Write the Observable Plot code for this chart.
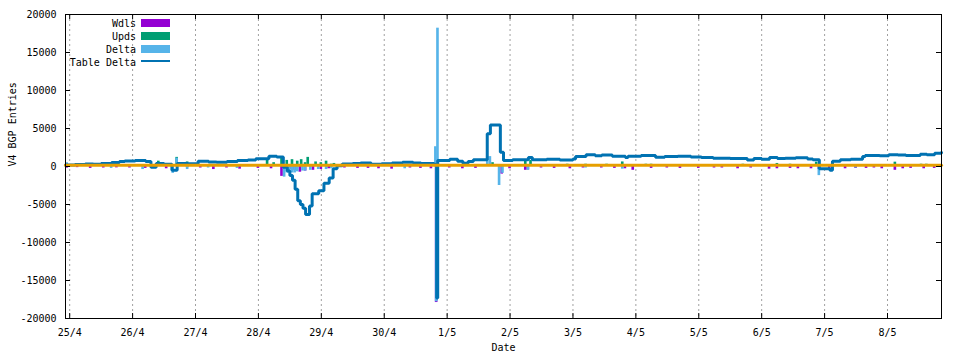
<!DOCTYPE html>
<html><head><meta charset="utf-8">
<script src="https://cdn.jsdelivr.net/npm/d3@7"></script>
<script src="https://cdn.jsdelivr.net/npm/@observablehq/plot@0.6"></script>
<style>body{margin:0;background:#fff}#chart{width:960px;height:360px}</style>
</head><body><div id="chart"></div>
<script>
// ---- data (hours since 25/4 00:00) ----
const dayTickLabels = ["25/4","26/4","27/4","28/4","29/4","30/4","1/5","2/5","3/5","4/5","5/5","6/5","7/5","8/5"];
const yTicks = [-20000,-15000,-10000,-5000,0,5000,10000,15000,20000];
const xDomainHours = [-1.6, 332.6];
const yDomain = [-20000, 20000];

const tableDelta = [[-1.6,200],[2,260],[6,330],[9,280],[12,400],[16,530],[19,660],[21,720],[25,790],[29,660],[31,-100],[33,400],[36,300],[39,-500],[41,400],[45,350],[49,700],[53,600],[56,560],[60,650],[64,790],[68,850],[71,1010],[76,1360],[79,1250],[81.5,-100],[83,-600],[84,-1200],[85,-1800],[86,-3000],[87,-4500],[88,-5000],[89,-5500],[90,-6300],[91.5,-5200],[92.5,-3600],[95,-3200],[97,-2200],[99,-1500],[100.5,-300],[102,100],[104,330],[108,400],[111,450],[115,300],[119,350],[123,450],[127,550],[131,450],[134,400],[139,300],[139.6,100],[140,-17300],[140.4,800],[145,960],[148,700],[150,430],[152,660],[154,880],[159.3,4300],[160.5,5450],[164.3,1880],[165.5,790],[169,880],[175,1200],[176.5,900],[182,950],[187,850],[192,1000],[193,1320],[197,1540],[200.5,1400],[203,1500],[207,1360],[212,1200],[213,1360],[218,1450],[223.5,1230],[227,1300],[232,1350],[237,1250],[241,1200],[245.5,1100],[252,1050],[258.5,850],[261,1050],[264,950],[267,1200],[270,1050],[273,1100],[277,1150],[281.5,1000],[283.5,900],[286,-300],[290,-500],[291,700],[294,900],[298,950],[302.5,1320],[303.5,1450],[309,1400],[312.5,1540],[316,1500],[319,1450],[324.5,1600],[327,1550],[330,1750],[332.6,1850]];

const wdls = [[-1,-220],[3,-150],[8,-250],[13,-200],[18,-180],[23,-200],[29,-250],[33,-200],[37,-300],[45,-150],[50,-200],[55,-400],[60,-200],[65,-350],[72,-250],[77,-300],[81,-1300],[84,-400],[86,-500],[88,-750],[90,-600],[93,-500],[96,-400],[99,-300],[105,-200],[110,-250],[114,-250],[118,-300],[123,-350],[130,-200],[134,-250],[138,-300],[140,-17900],[145,-200],[150,-300],[155,-250],[165,-1000],[168,-300],[174,-500],[175,-450],[180,-200],[185,-250],[191,-300],[196,-200],[203,-200],[208,-250],[212,-300],[215,-500],[222,-250],[228,-200],[233,-250],[240,-250],[246,-200],[249,-200],[255,-300],[260,-200],[267,-350],[270,-300],[275,-250],[278,-300],[283,-300],[286,-400],[290,-350],[296,-300],[300,-250],[304,-250],[307,-200],[310,-300],[315,-500],[318,-300],[321,-250],[326,-300],[330,-250]];

const upds = [[6,400],[34,700],[41,1200],[45,600],[75.5,1000],[78,500],[81,1300],[83,800],[85,900],[87,700],[88.5,900],[90,500],[91,1200],[94,600],[96,500],[98,700],[100,300],[101,400],[104,300],[161.5,500],[174,800],[176,800],[190,300],[197,300],[205,300],[211,600],[220,300],[222,300],[247,250],[257,300],[270,400],[275,300],[281,250],[285,570],[315,570],[325,300],[327,300],[330,250]];

const delta = [[-1,500],[16,-250],[28,-400],[39.5,-900],[41,1100],[45,-400],[53,-200],[64,-250],[82,-1400],[83,-850],[84,-850],[85,-850],[86,-850],[87,-700],[89,-600],[90,-600],[92,-500],[95,-400],[98,-400],[100,-300],[128,-300],[139.7,2600],[140,-17800],[140.5,18200],[159.5,1300],[160.5,1300],[164,-2500],[165.3,-900],[175,-500],[197,-200],[211,-350],[286,-1200],[300,-200]];

const baseline = [[-1.6,150],[332.6,150]];

const colors = {wdls:"#9400d3", upds:"#009e73", delta:"#56b4e9", table:"#0072b2", base:"#e69f00"};

// ---- helpers ----
const startMs = Date.UTC(2023,3,25);
const toDate = h => new Date(startMs + h*3600e3);
const tickDates = dayTickLabels.map((_, i) => toDate(i*24));
const labelByTime = new Map(tickDates.map((d,i)=>[+d, dayTickLabels[i]]));
const xStart = toDate(xDomainHours[0]), xEnd = toDate(xDomainHours[1]);

const bars = (arr, fill) => Plot.rectY(arr, {
  x1: d => toDate(d[0]-0.5), x2: d => toDate(d[0]+0.5),
  y1: () => 0, y2: d => d[1], fill, inset: 0
});

const plot = Plot.plot({
  width: 960, height: 360,
  marginLeft: 65, marginRight: 19, marginTop: 14, marginBottom: 42,
  style: {fontFamily: "'DejaVu Sans Mono', monospace", fontSize: "10px", color: "#000", background: "#fff", overflow: "visible"},
  x: {type: "utc", domain: [xStart, xEnd]},
  y: {domain: yDomain},
  marks: [
    Plot.ruleX(tickDates, {stroke: "#a0a0a0", strokeDasharray: "2,3", strokeOpacity: 1}),
    bars(wdls, colors.wdls),
    bars(upds, colors.upds),
    bars(delta, colors.delta),
    Plot.line(tableDelta, {x: d => toDate(d[0]), y: d => d[1], curve: "step-after", stroke: colors.table, strokeWidth: 3, strokeLinejoin: "miter"}),
    Plot.line(baseline, {x: d => toDate(d[0]), y: d => d[1], stroke: colors.base, strokeWidth: 3}),
    Plot.frame({stroke: "#000", strokeWidth: 1}),
    Plot.ruleX(tickDates, {y1: () => yDomain[0], y2: () => yDomain[0], insetTop: -5, stroke: "#000"}),
    Plot.ruleX(tickDates, {y1: () => yDomain[1], y2: () => yDomain[1], insetBottom: -5, stroke: "#000"}),
    Plot.ruleY(yTicks, {x1: () => xStart, x2: () => xStart, insetRight: -5, stroke: "#000"}),
    Plot.ruleY(yTicks, {x1: () => xEnd, x2: () => xEnd, insetLeft: -5, stroke: "#000"}),
    Plot.axisX({ticks: tickDates, tickFormat: d => labelByTime.get(+d), tickSize: 0, tickPadding: 10, label: null}),
    Plot.axisY({ticks: yTicks, tickFormat: d => String(d), tickSize: 0, tickPadding: 9, label: null}),
    Plot.text(["V4 BGP Entries"], {frameAnchor: "left", dx: -53, rotate: -90, fill: "#000"}),
    Plot.text(["Date"], {frameAnchor: "bottom", dy: 32, fill: "#000"})
  ]
});

// legend (inside top-left, gnuplot style)
const legendItems = [
  {label: "Wdls", color: colors.wdls, kind: "box"},
  {label: "Upds", color: colors.upds, kind: "box"},
  {label: "Delta", color: colors.delta, kind: "box"},
  {label: "Table Delta", color: colors.table, kind: "line"}
];
const g = d3.select(plot).append("g").attr("font-family", "'DejaVu Sans Mono', monospace").attr("font-size", 10);
legendItems.forEach((it, i) => {
  const cy = 23 + i*13;
  g.append("text").attr("x", 136).attr("y", cy + 3.5).attr("text-anchor", "end").attr("fill", "#000").text(it.label);
  if (it.kind === "box") {
    g.append("rect").attr("x", 141).attr("y", cy - 4).attr("width", 29).attr("height", 8).attr("fill", it.color);
  } else {
    g.append("line").attr("x1", 141).attr("x2", 170).attr("y1", cy - 1).attr("y2", cy - 1).attr("stroke", it.color).attr("stroke-width", 2);
  }
});

document.getElementById("chart").appendChild(plot);
</script>
</body></html>
